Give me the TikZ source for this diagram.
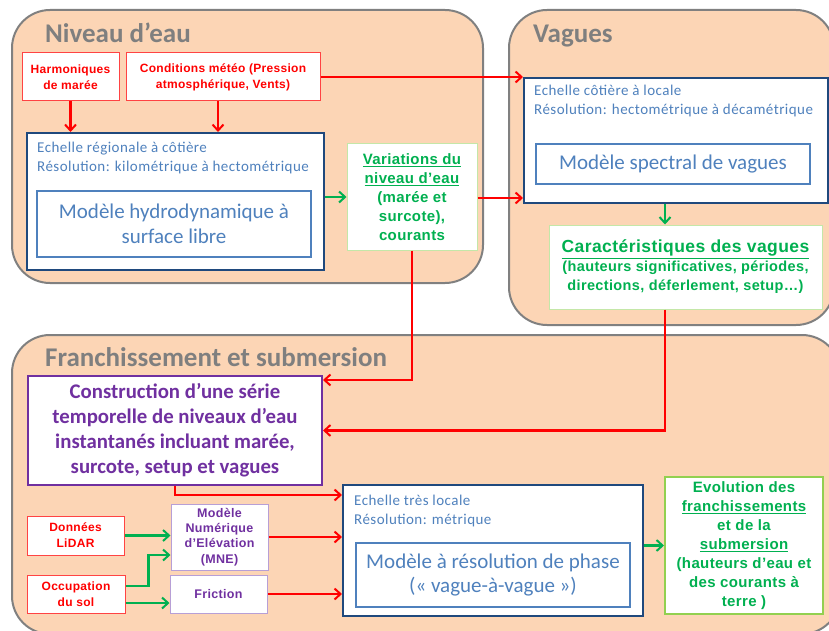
\documentclass[tikz,border=0pt]{standalone}
\usepackage{fontspec}
\setmainfont{Carlito}
\newfontfamily\arialf{Liberation Sans}[LetterSpace=2.5]
\newfontfamily\calsp{Carlito}[LetterSpace=3]
\usetikzlibrary{arrows.meta,calc}
\definecolor{peach}{HTML}{FCD5B5}
\definecolor{grayb}{HTML}{808080}
\definecolor{titleg}{HTML}{7F7F7F}
\definecolor{myred}{HTML}{FF0000}
\definecolor{redb}{HTML}{FF4343}
\definecolor{mygreen}{HTML}{00B050}
\definecolor{lgreen}{HTML}{C4E7A8}
\definecolor{bgreen}{HTML}{92D050}
\definecolor{dblue}{HTML}{1F497D}
\definecolor{mblue}{HTML}{4F81BD}
\definecolor{purp}{HTML}{7030A0}
\definecolor{lpurp}{HTML}{B79FD6}
\tikzset{
  group/.style={draw=grayb, fill=peach, line width=2pt, rounded corners=38pt},
  grouptitle/.style={anchor=west, inner sep=0, text=titleg, font=\bfseries\fontsize{27}{30}\selectfont},
  redbox/.style={draw=redb, line width=1pt, fill=white, inner sep=0, align=center, text=myred,
    font=\arialf\bfseries\fontsize{12}{16}\selectfont},
  outerblue/.style={draw=dblue, line width=2pt, fill=white, inner sep=0},
  innerblue/.style={draw=mblue, line width=2pt, fill=white, inner sep=0, align=center, text=mblue,
    font=\fontsize{21}{24.5}\selectfont},
  scaletext/.style={anchor=north west, inner sep=0, align=left, text=mblue, font=\calsp\fontsize{15}{19}\selectfont},
  greenbox/.style={draw=lgreen, line width=1pt, fill=white, inner sep=0, align=center, text=mygreen,
    font=\arialf\bfseries\fontsize{15}{19}\selectfont},
  purplebox/.style={draw=purp, line width=2pt, fill=white, inner sep=0, align=center, text=purp,
    font=\bfseries\fontsize{20.8}{25}\selectfont},
  lpurplebox/.style={draw=lpurp, line width=1pt, fill=white, inner sep=0, align=center, text=purp,
    font=\arialf\bfseries\fontsize{12.5}{15.3}\selectfont},
  redarrow/.style={draw=myred, line width=2.5pt, -{Straight Barb[length=6pt,width=11pt,line width=2pt]}},
  greenarrow/.style={draw=mygreen, line width=2.5pt, -{Straight Barb[length=6pt,width=11pt,line width=2pt]}},
}
\begin{document}
\begin{tikzpicture}[x=1pt,y=-1pt]
\useasboundingbox (0,0) rectangle (829,631);
% groups
\draw[group] (12,10) rectangle (483,283);
\draw[group] (509,10) rectangle (834,325);
\draw[group] (12,335) rectangle (840,634);
\node[grouptitle] (t1) at (45,33) {Niveau d’eau};
\node[grouptitle] (t2) at (533,36) {Vagues};
\node[grouptitle] (t3) at (45,357) {Franchissement et submersion};
% Niveau d'eau
\node[redbox, minimum width=97, minimum height=48] (harm) at (70.5,77) {Harmoniques\\de marée};
\node[redbox, minimum width=194, minimum height=48] (cond) at (223,77) {Conditions météo (Pression\\atmosphérique, Vents)};
\node[outerblue, minimum width=297, minimum height=137] (reg) at (175.5,201.5) {};
\node[scaletext] (regt) at (37,142) {Echelle régionale à côtière\\Résolution: kilométrique à hectométrique};
\node[innerblue, minimum width=274, minimum height=66] (hydro) at (174,224) {Modèle hydrodynamique à\\surface libre};
\node[greenbox, minimum width=130, minimum height=106] (var) at (412,197)
  {\underline{Variations du}\\\underline{niveau d’eau}\\(marée et\\surcote),\\courants};
% Vagues
\node[outerblue, minimum width=304, minimum height=125] (vreg) at (676,140.5) {};
\node[scaletext] (vregt) at (534,85) {Echelle côtière à locale\\Résolution: hectométrique à décamétrique};
\node[innerblue, minimum width=274, minimum height=40] (spec) at (673,164) {Modèle spectral de vagues};
\node[greenbox, minimum width=273, minimum height=84, font=\arialf\bfseries\fontsize{14.5}{19}\selectfont] (car) at (685.5,267)
  {{\fontsize{17.5}{20}\selectfont\underline{Caractéristiques des vagues}}\\(hauteurs significatives, périodes,\\directions, déferlement, setup…)};
% Franchissement
\node[purplebox, minimum width=294, minimum height=109] (cons) at (175,430.5)
  {Construction d’une série\\temporelle de niveaux d’eau\\instantanés incluant marée,\\surcote, setup et vagues};
\node[redbox, minimum width=97, minimum height=39] (lidar) at (75.5,535.5) {Données\\LiDAR};
\node[redbox, minimum width=98, minimum height=38] (occ) at (76,594) {Occupation\\du sol};
\node[lpurplebox, minimum width=97, minimum height=66] (mne) at (219.5,537) {Modèle\\Numérique\\d’Elévation\\(MNE)};
\node[lpurplebox, minimum width=97, minimum height=38] (fric) at (218.5,594) {Friction};
\node[outerblue, minimum width=300, minimum height=131] (loc) at (493,550.5) {};
\node[scaletext] (loct) at (354,495) {Echelle très locale\\Résolution: métrique};
\node[innerblue, minimum width=274, minimum height=64] (phase) at (493,575) {Modèle à résolution de phase\\(« vague-à-vague »)};
\node[greenbox, draw=bgreen, line width=2pt, minimum width=158, minimum height=137] (evo) at (744,545.5)
  {Evolution des\\\underline{franchissements}\\et de la\\\underline{submersion}\\(hauteurs d’eau et\\des courants à\\terre )};
% connectors
\draw[redarrow] (harm.south) -- (harm.south |- reg.north);
\draw[redarrow] ([xshift=-5pt]cond.south) -- ([xshift=-5pt]cond.south |- reg.north);
\draw[redarrow] (cond.east) -- (cond.east -| vreg.west);
\draw[greenarrow] (reg.east |- var.west) -- (var.west);
\draw[redarrow] ([yshift=-1pt]var.east) -- ([yshift=-1pt]var.east -| vreg.west);
\draw[greenarrow] ([xshift=-11pt]vreg.south) -- ([xshift=-11pt]vreg.south |- car.north);
\draw[redarrow] (var.south) |- ([yshift=-5pt]cons.north east);
\draw[redarrow] ([xshift=-20.5pt]car.south) |- (cons.east);
\draw[redarrow] (cons.south) |- ([yshift=-11pt]loc.north west);
\draw[redarrow] (mne.east) -- (mne.east -| loc.west);
\draw[redarrow] (fric.east) -- (fric.east -| loc.west);
\draw[greenarrow] (lidar.east) -- (lidar.east -| mne.west);
\draw[greenarrow] ([yshift=8pt]occ.east) -- ++(23,0) |- ([yshift=-18pt]mne.west);
\draw[greenarrow] ([yshift=-9pt]occ.east) -- ([yshift=-9pt]occ.east -| fric.west);
\draw[greenarrow] (loc.east |- evo.west) -- (evo.west);
\end{tikzpicture}
\end{document}
